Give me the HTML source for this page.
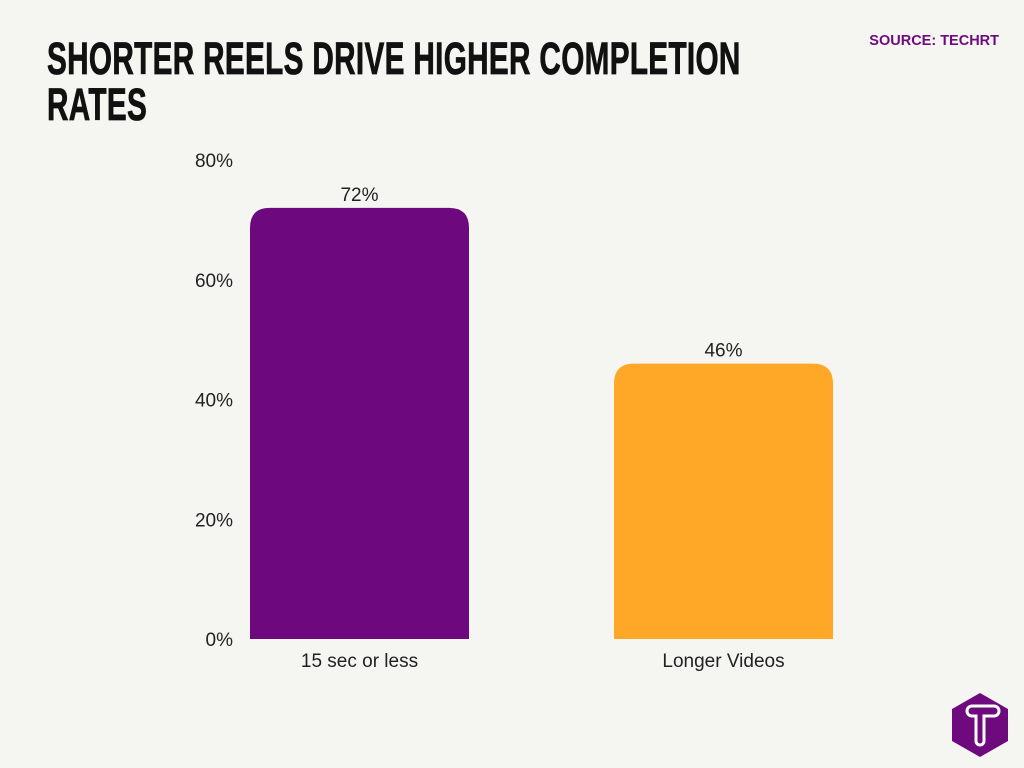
<!DOCTYPE html>
<html><head><meta charset="utf-8"><style>
body{margin:0;width:1024px;height:768px;background:#f5f5f1;overflow:hidden;position:relative;font-family:"Liberation Sans",sans-serif}
.title{position:absolute;left:47px;top:36px;font-family:"Liberation Sans Narrow","Liberation Sans",sans-serif;font-weight:bold;font-size:45px;line-height:46px;color:#111;transform:scaleX(0.66);transform-origin:0 0;white-space:nowrap;letter-spacing:0.5px;-webkit-text-stroke:0.8px #111}
.src{position:absolute;right:25px;top:33px;font-size:14.5px;font-weight:bold;color:#6e0a7e}
</style></head><body>
<div class="title">SHORTER REELS DRIVE HIGHER COMPLETION<br>RATES</div>
<div class="src">SOURCE: TECHRT</div>
<svg id="chart" width="1024" height="768" style="position:absolute;left:0;top:0"></svg>
<svg width="1024" height="768" style="position:absolute;left:0;top:0;pointer-events:none">
<polygon points="980,693 1008,709 1008,741 980,757 952,741 952,709" fill="#6e0a7e"/>
<path d="M972,706 h22 a5,5 0 0 1 0,10 h-10 v25 a4,4 0 0 1 -8,0 v-25 h-4 a5,5 0 0 1 0,-10z" fill="none" stroke="#fff" stroke-width="3"/>
</svg>
<script>
const categories=["15 sec or less","Longer Videos"];
const values=[72,46];
const colors=["#6e087e","#ffa726"];
const ticks=[0,20,40,60,80];
const svg=document.getElementById('chart');
const NS="http://www.w3.org/2000/svg";
const y0=639,pxPer=479/80;
const y=v=>y0-v*pxPer;
const barX=[250,614],bw=219;
function mk(t,a){const e=document.createElementNS(NS,t);for(const k in a)e.setAttribute(k,a[k]);svg.appendChild(e);return e;}
ticks.forEach(t=>{const e=mk('text',{x:233,y:y(t)+7,'text-anchor':'end','font-size':19,fill:'#222','font-family':'Liberation Sans'});e.textContent=t+'%';

});
values.forEach((v,i)=>{const x=barX[i],top=y(v),r=20;
const p=mk('path',{d:`M${x},${y0} V${top+r} Q${x},${top} ${x+r},${top} H${x+bw-r} Q${x+bw},${top} ${x+bw},${top+r} V${y0} Z`,fill:colors[i]});


const l=mk('text',{x:x+bw/2,y:top-7,'text-anchor':'middle','font-size':19,fill:'#222','font-family':'Liberation Sans'});l.textContent=v+'%';


const c=mk('text',{x:x+bw/2,y:667,'text-anchor':'middle','font-size':19,fill:'#222','font-family':'Liberation Sans'});c.textContent=categories[i];

});
</script>
</body></html>
